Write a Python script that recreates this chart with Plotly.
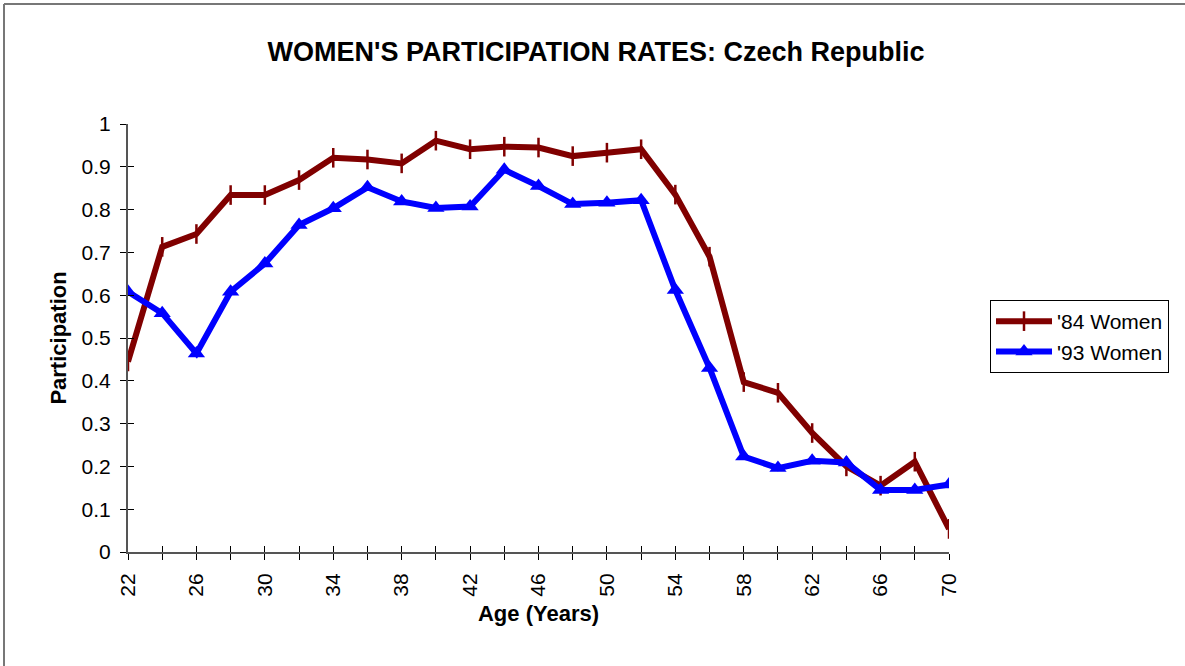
import plotly.graph_objects as go

ages = list(range(22, 71, 2))
women_84 = [0.445, 0.713, 0.743, 0.834, 0.834, 0.869, 0.921, 0.917, 0.908, 0.961,
            0.941, 0.947, 0.945, 0.925, 0.933, 0.941, 0.835, 0.690, 0.397, 0.372,
            0.278, 0.200, 0.155, 0.211, 0.054]
women_93 = [0.608, 0.558, 0.464, 0.608, 0.674, 0.764, 0.803, 0.852, 0.819, 0.804,
            0.807, 0.893, 0.855, 0.813, 0.816, 0.822, 0.612, 0.430, 0.223, 0.196,
            0.213, 0.209, 0.145, 0.145, 0.158]
x_ticktext = [str(a) if (a - 22) % 4 == 0 else "" for a in ages]
y_ticks = [0, 0.1, 0.2, 0.3, 0.4, 0.5, 0.6, 0.7, 0.8, 0.9, 1]
y_ticktext = ["0", "0.1", "0.2", "0.3", "0.4", "0.5", "0.6", "0.7", "0.8", "0.9", "1"]

W, H = 1185, 666
L, R, T, B = 128, 236, 124, 114
pw, ph = W - L - R, H - T - B

fig = go.Figure()
fig.add_trace(go.Scatter(
    x=ages, y=women_84, name="'84 Women", mode="lines+markers",
    line=dict(color="#800000", width=6),
    marker=dict(symbol="line-ns", size=14, line=dict(color="#800000", width=2.5)),
))
fig.add_trace(go.Scatter(
    x=ages, y=women_93, name="'93 Women", mode="lines+markers",
    line=dict(color="#0000FF", width=6),
    marker=dict(symbol="triangle-up", size=15, color="#0000FF"),
))

font = "Liberation Sans, Arial, sans-serif"
fig.update_layout(
    width=W, height=H,
    margin=dict(l=L, r=R, t=T, b=B, autoexpand=False),
    paper_bgcolor="white", plot_bgcolor="white",
    font=dict(family=font, size=21, color="black"),
    title=dict(text="<b>WOMEN'S PARTICIPATION RATES: Czech Republic</b>",
               x=596 / W, xanchor="center", y=1 - 52 / H, yanchor="middle",
               font=dict(size=27, family=font, color="black")),
    showlegend=True,
    legend=dict(x=(990 - L) / pw, xanchor="left", y=1 - (300 - T) / ph, yanchor="top",
                bordercolor="black", borderwidth=1, bgcolor="white",
                font=dict(size=21, family=font), tracegroupgap=0,
                itemwidth=56),
    xaxis=dict(range=[22, 70], tickmode="array", tickvals=ages, ticktext=x_ticktext,
               tickangle=-90, ticks="outside", ticklen=6, tickcolor="black",
               ticklabelstandoff=5,
               showline=True, linecolor="#555555", linewidth=2, showgrid=False,
               zeroline=False, tickfont=dict(size=21),
               title=dict(text="<b>Age (Years)</b>", font=dict(size=22), standoff=10)),
    yaxis=dict(range=[0, 1], tickmode="array", tickvals=y_ticks, ticktext=y_ticktext,
               ticks="outside", ticklen=6, tickcolor="black",
               ticklabelstandoff=5,
               showline=True, linecolor="#555555", linewidth=2, showgrid=False,
               zeroline=False, tickfont=dict(size=21),
               title=dict(text="<b>Participation</b>", font=dict(size=22), standoff=9)),
    xaxis2=dict(overlaying="x", range=[22, 70], tickmode="array", tickvals=ages,
                showticklabels=False, ticks="inside", ticklen=6, tickcolor="black",
                showline=False, showgrid=False, zeroline=False, side="bottom"),
    yaxis2=dict(overlaying="y", range=[0, 1], tickmode="array", tickvals=y_ticks,
                showticklabels=False, ticks="inside", ticklen=6, tickcolor="black",
                showline=False, showgrid=False, zeroline=False, side="left"),
)
# invisible trace to activate the overlay axes (crossing tick marks)
fig.add_trace(go.Scatter(x=[22], y=[0], xaxis="x2", yaxis="y2", showlegend=False,
                         mode="markers", marker=dict(opacity=0), hoverinfo="skip"))

# figure border (left and top)
fig.add_shape(type="line", xref="paper", yref="paper",
              x0=(4 - L) / pw, x1=(W - L) / pw, y0=1 + (T - 4) / ph, y1=1 + (T - 4) / ph,
              line=dict(color="#777777", width=2))
fig.add_shape(type="line", xref="paper", yref="paper",
              x0=(4 - L) / pw, x1=(4 - L) / pw, y0=1 + (T - 4) / ph, y1=-(B) / ph,
              line=dict(color="#777777", width=2))

fig.write_html("out.html", config={"displayModeBar": False},
               post_script="document.body.style.margin='0px';")
